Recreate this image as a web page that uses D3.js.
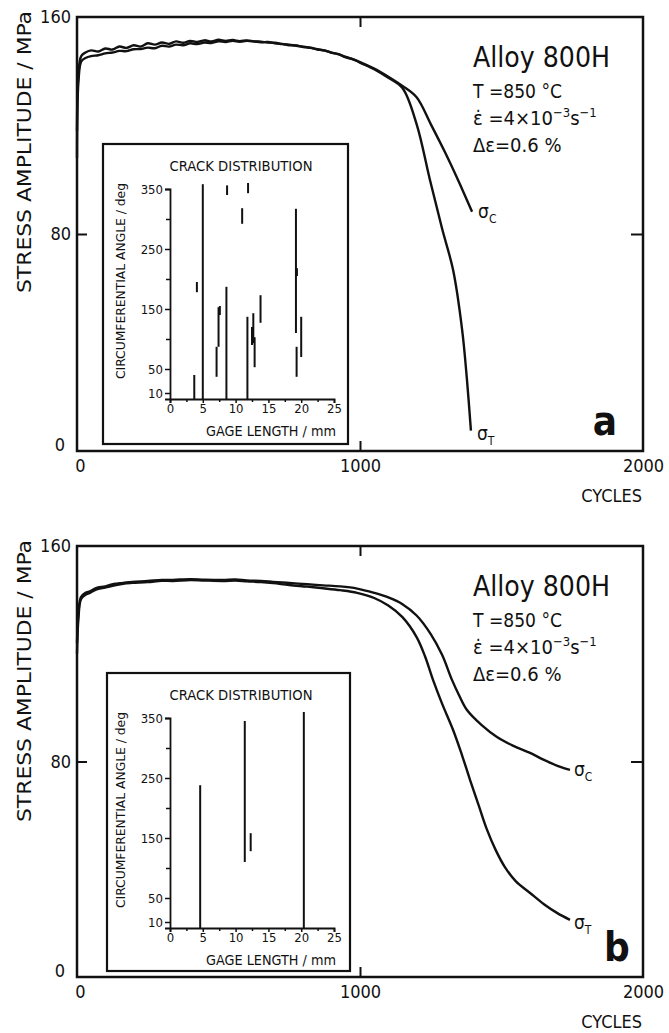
<!DOCTYPE html>
<html><head><meta charset="utf-8">
<script src="https://cdn.jsdelivr.net/npm/d3@7"></script>
<style>
html,body{margin:0;padding:0;background:#fff;}
text{font-family:'DejaVu Sans Condensed','DejaVu Sans',sans-serif;font-stretch:condensed;fill:#111;}
</style></head>
<body><svg id="c" width="669" height="1033"></svg>
<script>
// ---------- data ----------
const xTickValues = [0, 1000, 2000];
const yTickValues = [0, 80, 160];
const insetXTicks = [0, 5, 10, 15, 20, 25];
const insetXMinor = [2.5, 7.5, 12.5, 17.5, 22.5];
const insetYTicks = [10, 50, 150, 250, 350];
const insetYMinor = [100, 200, 300];

// panel a, sigma_C
const aCyclesC = [0,5,15,30,50,75,100,125,150,175,200,225,250,275,300,325,350,375,400,425,450,475,500,525,550,575,600,625,650,675,700,725,750,775,800,825,850,875,900,925,950,975,1000,1050,1100,1150,1200,1250,1300,1346,1370,1396];
const aStressC = [118,139,145.6,146.9,147.7,147.3,148.4,148.0,149.1,148.6,149.6,149.1,150.3,149.8,150.6,150.1,151.0,150.5,151.2,150.8,151.4,151.0,151.6,151.2,151.5,151.1,151.4,151.0,150.9,150.6,150.5,150.0,149.8,149.4,149.1,148.6,148.1,147.6,146.9,146.2,145.3,144.4,143.4,141.0,138.0,134.6,130.4,120.5,110.2,100.0,94.4,88.2];
// panel a, sigma_T
const aCyclesT = [0,5,15,30,50,75,100,125,150,175,200,225,250,275,300,325,350,375,400,425,450,475,500,525,550,575,600,625,650,675,700,725,750,775,800,825,850,875,900,925,950,975,1000,1050,1100,1150,1200,1247,1290,1329,1361,1378,1392];
const aStressT = [108,136,143.6,144.9,145.6,145.9,146.6,146.9,147.5,147.4,148.1,148.2,148.7,148.5,149.4,149.1,149.8,149.6,150.3,150.0,150.6,150.4,151.0,150.8,151.2,150.9,151.2,151.0,150.7,150.8,150.3,150.1,149.6,149.5,148.9,148.7,148.0,147.7,146.8,146.3,145.1,144.5,143.2,140.8,137.6,133.8,120.5,100.0,82.0,66.7,44.6,26.2,7.5];

// panel b, sigma_C
const bCyclesC = [0,5,14,30,46,67,100,130,163,195,250,300,339,400,450,516,560,600,650,693,750,813,870,930,990,1050,1100,1150,1200,1250,1290,1325,1350,1378,1430,1484,1540,1601,1650,1700,1742];
const bStressC = [124,135,141,142.6,143.2,144.4,145.0,145.9,146.3,146.7,147.0,147.4,147.4,147.7,147.5,147.4,147.6,147.2,147.0,146.7,146.3,145.8,145.4,145.0,144.2,142.6,140.9,138.4,134.2,127.3,119.6,110.3,104.6,99.1,93.5,89.1,85.9,83.2,80.6,78.3,76.9];
// panel b, sigma_T
const bCyclesT = [0,5,14,30,46,67,100,130,163,195,250,300,339,400,450,516,560,600,650,693,750,813,870,930,990,1050,1100,1150,1200,1230,1258,1290,1329,1360,1389,1420,1449,1480,1512,1550,1601,1650,1696,1742];
const bStressT = [120,133,140.2,141.9,142.6,143.8,144.6,145.3,146.0,146.3,146.6,147.1,147.0,147.4,147.2,147.0,147.2,146.9,146.6,146.2,145.5,144.9,144.3,143.6,142.6,140.7,137.9,133.6,126.2,119.0,110.3,101.5,91.7,82.5,73.1,63.5,54.6,47.0,40.8,35.6,31.2,27.0,23.8,21.2];

// crack distributions: position along gage length (mm), angle from / to (deg)
const cracksAPos  = [3.7, 4.1, 5.0, 7.1, 7.4, 7.6, 8.6, 8.7, 11.0, 11.8, 11.9, 12.5, 12.7, 12.9, 13.8, 19.2, 19.3, 19.35, 20.0];
const cracksAFrom = [0,   178, 0,   37,  87,  140, 0,   340, 292,  0,    343,  90,   93,   53,   127,  110,  37,   205,   70];
const cracksATo   = [40,  195, 358, 87,  153, 155, 187, 356, 318,  137,  360,  120,  143,  103,  173,  317,  87,   218,   137];
const cracksBPos  = [4.6, 11.4, 12.3, 20.4];
const cracksBFrom = [0,   110,  128,  0];
const cracksBTo   = [238, 345,  158,  360];

// ---------- drawing ----------
const svg = d3.select('#c');
svg.append('rect').attr('width',669).attr('height',1033).attr('fill','#fff');
const F = "'DejaVu Sans Condensed','DejaVu Sans',sans-serif";

function panel(o){
  const g = svg.append('g');
  const x = d3.scaleLinear().domain([0,2000]).range([77,643]);
  const y = d3.scaleLinear().domain([0,160]).range([o.bottom,o.top]);
  // frame
  g.append('rect').attr('x',77).attr('y',o.top).attr('width',566).attr('height',o.bottom-o.top)
    .attr('fill','none').attr('stroke','#111').attr('stroke-width',2.5);
  // axes (ticks inward)
  const ax = g.append('g').attr('transform',`translate(0,${o.bottom})`)
    .call(d3.axisBottom(x).tickValues(xTickValues).tickSize(-10).tickPadding(8).tickFormat(d3.format('d')));
  const axT = g.append('g').attr('transform',`translate(0,${o.top})`)
    .call(d3.axisTop(x).tickValues([1000]).tickSize(-10).tickFormat(''));
  const ay = g.append('g').attr('transform','translate(77,0)')
    .call(d3.axisLeft(y).tickValues(yTickValues).tickSize(-10).tickPadding(6));
  const ayR = g.append('g').attr('transform','translate(643,0)')
    .call(d3.axisRight(y).tickValues([80]).tickSize(-12).tickFormat(''));
  [ax,axT,ay,ayR].forEach(a=>{a.select('.domain').remove();
    a.selectAll('line').attr('stroke','#111').attr('stroke-width',2);
    a.selectAll('text').attr('font-size',18).attr('font-family',F).attr('fill','#111');});
  ay.selectAll('.tick').filter(d=>d===0).select('text').attr('dy','-0.05em').attr('x',-12);
  ay.selectAll('.tick').filter(d=>d===0||d===160).select('line').remove();
  ax.selectAll('.tick').filter(d=>d!==1000).select('line').remove();
  ax.selectAll('.tick').filter(d=>d===0).select('text').attr('dx',3);

  g.append('text').attr('x',642).attr('y',o.bottom+51).attr('text-anchor','end')
    .attr('font-size',18).text('CYCLES');
  g.append('text').attr('transform',`translate(31,${o.top+135}) rotate(-90)`).attr('text-anchor','middle')
    .attr('font-size',19).attr('textLength',282).attr('lengthAdjust','spacingAndGlyphs')
    .text('STRESS AMPLITUDE / MPa');

  // curves
  const line = d3.line().x(d=>x(d[0])).y(d=>y(d[1])).curve(d3.curveCatmullRom.alpha(0.5));
  [[o.cC,o.sC],[o.cT,o.sT]].forEach(([c,s])=>{
    g.append('path').attr('d',line(c.map((v,i)=>[v,s[i]])))
      .attr('fill','none').attr('stroke','#111').attr('stroke-width',2.4).attr('stroke-linejoin','round');
  });
  // curve labels
  const lab = (N,v,sub,dx,dy)=>{
    const t = g.append('text').attr('x',x(N)+dx).attr('y',y(v)+dy).attr('font-size',19);
    t.append('tspan').text('σ');
    t.append('tspan').attr('font-size',12).attr('dy',5).text(sub);
  };
  lab(o.cC[o.cC.length-1], o.sC[o.sC.length-1], 'C', o.labDx, 6);
  lab(o.cT[o.cT.length-1], o.sT[o.sT.length-1], 'T', o.labDx, 9);

  // panel letter
  g.append('text').attr('x',o.letterX).attr('y',o.bottom-16).attr('text-anchor','middle')
    .attr('font-family',"'Liberation Serif','DejaVu Serif',serif").attr('font-weight','bold')
    .attr('font-size',40).style('font-stretch','normal').text(o.letter);

  // condition text
  const tx = 473, tb = o.top + 50;
  g.append('text').attr('x',tx).attr('y',tb).attr('font-size',28).attr('textLength',137)
    .attr('lengthAdjust','spacingAndGlyphs').text('Alloy 800H');
  g.append('text').attr('x',tx).attr('y',tb+31).attr('font-size',20).attr('textLength',89)
    .attr('lengthAdjust','spacingAndGlyphs').text('T  =850 °C');
  const e = g.append('text').attr('x',tx).attr('y',tb+58).attr('font-size',20);
  e.append('tspan').text('ε\u0307 =4×10');
  e.append('tspan').attr('font-size',13).attr('dy',-8).text('−3');
  e.append('tspan').attr('dy',8).text('s');
  e.append('tspan').attr('font-size',13).attr('dy',-8).text('−1');
  g.append('text').attr('x',tx).attr('y',tb+85).attr('font-size',20).text('Δε=0.6 %');

  // inset
  const ib = o.inset;
  const ig = g.append('g');
  ig.append('rect').attr('x',ib.x0).attr('y',ib.y0).attr('width',ib.x1-ib.x0).attr('height',ib.y1-ib.y0)
    .attr('fill','#fff').attr('stroke','#111').attr('stroke-width',2.2);
  const ix = d3.scaleLinear().domain([0,25]).range([170,334]);
  const iy = d3.scaleLinear().domain([0,350]).range([ib.y0+255, ib.y0+45]);
  ig.append('text').attr('x',241).attr('y',ib.y0+27).attr('text-anchor','middle').attr('font-size',14)
    .attr('textLength',143).attr('lengthAdjust','spacingAndGlyphs').text('CRACK DISTRIBUTION');
  const iax = ig.append('g').attr('transform',`translate(0,${iy(0)})`)
    .call(d3.axisBottom(ix).tickValues(insetXTicks).tickSize(4).tickPadding(1));
  const iaxm = ig.append('g').attr('transform',`translate(0,${iy(0)})`)
    .call(d3.axisBottom(ix).tickValues(insetXMinor).tickSize(3).tickFormat(''));
  const iay = ig.append('g').attr('transform','translate(170,0)')
    .call(d3.axisLeft(iy).tickValues(insetYTicks).tickSize(5).tickPadding(2));
  const iaym = ig.append('g').attr('transform','translate(170,0)')
    .call(d3.axisLeft(iy).tickValues(insetYMinor).tickSize(4).tickFormat(''));
  [iax,iaxm,iay,iaym].forEach(a=>{
    a.select('.domain').attr('stroke','#111').attr('stroke-width',1.8);
    a.selectAll('line').attr('stroke','#111').attr('stroke-width',1.5);
    a.selectAll('text').attr('font-size',13).attr('font-family',F).attr('fill','#111');});
  iaym.select('.domain').remove(); iaxm.select('.domain').remove();
  ig.append('text').attr('x',336).attr('y',iy(0)+37).attr('text-anchor','end').attr('font-size',14)
    .attr('textLength',130).attr('lengthAdjust','spacingAndGlyphs').text('GAGE LENGTH / mm');
  ig.append('text').attr('transform',`translate(125,${ib.y0+137}) rotate(-90)`).attr('text-anchor','middle')
    .attr('font-size',13).attr('textLength',196).attr('lengthAdjust','spacingAndGlyphs')
    .text('CIRCUMFERENTIAL ANGLE / deg');
  ib.pos.forEach((p,i)=>{
    ig.append('line').attr('x1',ix(p)).attr('x2',ix(p)).attr('y1',iy(ib.from[i])).attr('y2',iy(ib.to[i]))
      .attr('stroke','#111').attr('stroke-width',2);
  });
}

panel({top:17,bottom:451,cC:aCyclesC,sC:aStressC,cT:aCyclesT,sT:aStressT,letter:'a',letterX:605,labDx:6,
  inset:{x0:103,x1:348,y0:144,y1:444,pos:cracksAPos,from:cracksAFrom,to:cracksATo}});
panel({top:546,bottom:977,cC:bCyclesC,sC:bStressC,cT:bCyclesT,sT:bStressT,letter:'b',letterX:617,labDx:4,
  inset:{x0:107,x1:350,y0:673,y1:971,pos:cracksBPos,from:cracksBFrom,to:cracksBTo}});
</script></body></html>
